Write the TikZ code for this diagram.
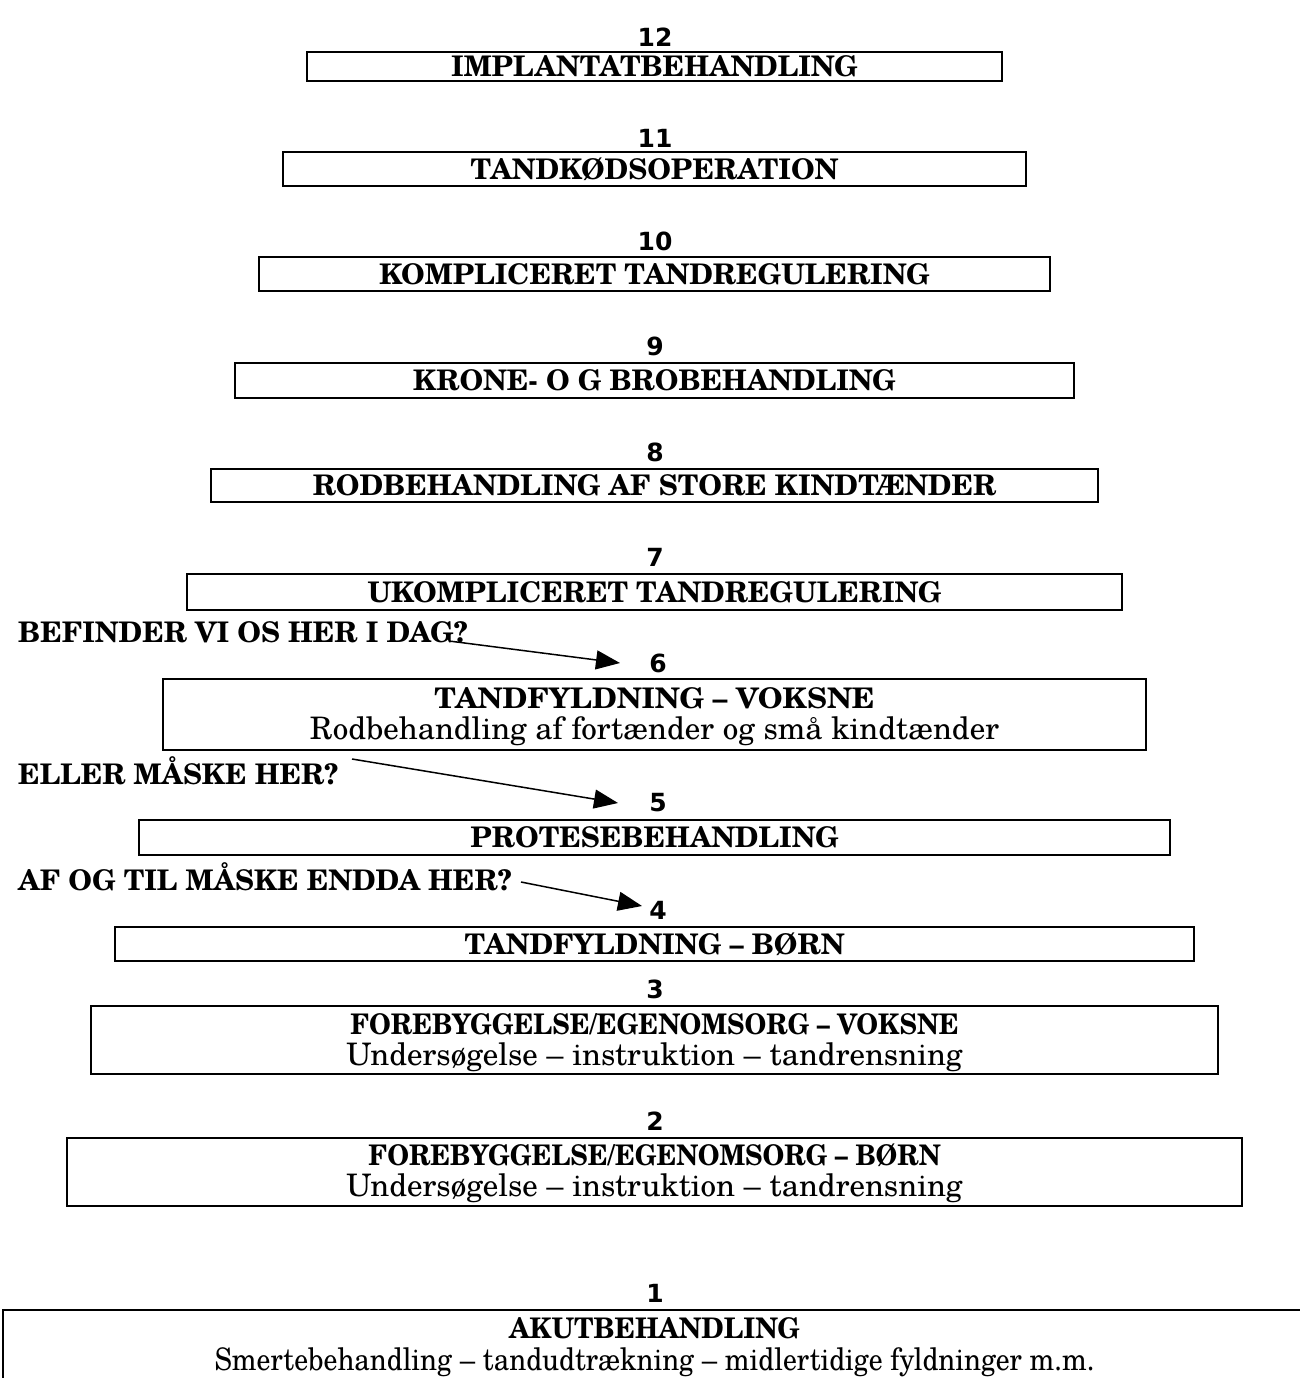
\documentclass[tikz,border=0pt]{standalone}
\usepackage{fontspec}
\setmainfont{TeX Gyre Schola}
\newfontfamily\numfont{DejaVu Sans}
\usetikzlibrary{arrows.meta}
\begin{document}
\begin{tikzpicture}[x=1pt,y=-1pt,
  box/.style={draw, line width=2.2pt, inner sep=0pt},
  ttl/.style={font=\fontsize{28.4}{32}\selectfont\bfseries, inner sep=0pt},
  sub/.style={font=\fontsize{31}{35}\selectfont, inner sep=0pt},
  num/.style={font=\numfont\fontsize{25}{28}\selectfont\bfseries, inner sep=0pt},
  lbl/.style={font=\fontsize{28.4}{32}\selectfont\bfseries, anchor=west, inner sep=0pt},
  arr/.style={line width=1.5pt, -{Triangle[length=24pt,width=19pt]}}]
\useasboundingbox (0,0) rectangle (1300,1378);
% 12
\node[num] (n12) at (655,37) {12};
\node[box, minimum width=695pt, minimum height=29pt] (b12) at (654.5,66.5) {};
\node[ttl] (t12) at (b12.center) {IMPLANTATBEHANDLING};
% 11
\node[num] (n11) at (655,138) {11};
\node[box, minimum width=743pt, minimum height=34pt] (b11) at (654.5,169) {};
\node[ttl] (t11) at (b11.center) {TANDKØDSOPERATION};
% 10
\node[num] (n10) at (655,241) {10};
\node[box, minimum width=791pt, minimum height=34pt] (b10) at (654.5,274) {};
\node[ttl] (t10) at (b10.center) {KOMPLICERET TANDREGULERING};
% 9
\node[num] (n9) at (655,346) {9};
\node[box, minimum width=839pt, minimum height=35pt] (b9) at (654.5,380.5) {};
\node[ttl] (t9) at (b9.center) {KRONE- O G BROBEHANDLING};
% 8
\node[num] (n8) at (655,452) {8};
\node[box, minimum width=887pt, minimum height=33pt] (b8) at (654.5,485.5) {};
\node[ttl] (t8) at (b8.center) {RODBEHANDLING AF STORE KINDTÆNDER};
% 7
\node[num] (n7) at (655,557) {7};
\node[box, minimum width=935pt, minimum height=36pt] (b7) at (654.5,592) {};
\node[ttl] (t7) at (b7.center) {UKOMPLICERET TANDREGULERING};
% 6
\node[num] (n6) at (658,663) {6};
\node[box, minimum width=983pt, minimum height=71pt] (b6) at (654.5,714.5) {};
\node[ttl] (t6) at (654.5,698) {\scalebox{1.05}[1]{TANDFYLDNING – VOKSNE}};
\node[sub] (s6) at (654.5,731) {Rodbehandling af fortænder og små kindtænder};
% 5
\node[num] (n5) at (658,803) {5};
\node[box, minimum width=1031pt, minimum height=35pt] (b5) at (654.5,837.5) {};
\node[ttl] (t5) at (b5.center) {PROTESEBEHANDLING};
% 4
\node[num] (n4) at (658,910) {4};
\node[box, minimum width=1079pt, minimum height=34pt] (b4) at (654.5,944) {};
\node[ttl] (t4) at (b4.center) {TANDFYLDNING – BØRN};
% 3
\node[num] (n3) at (655,989) {3};
\node[box, minimum width=1127pt, minimum height=68pt] (b3) at (654.5,1040) {};
\node[ttl] (t3) at (654.5,1024) {\scalebox{0.92}[1]{FOREBYGGELSE/EGENOMSORG – VOKSNE}};
\node[sub] (s3) at (654.5,1057) {Undersøgelse – instruktion – tandrensning};
% 2
\node[num] (n2) at (655,1121) {2};
\node[box, minimum width=1175pt, minimum height=68pt] (b2) at (654.5,1172) {};
\node[ttl] (t2) at (654.5,1155) {\scalebox{0.92}[1]{FOREBYGGELSE/EGENOMSORG – BØRN}};
\node[sub] (s2) at (654.5,1188) {Undersøgelse – instruktion – tandrensning};
% 1
\node[num] (n1) at (655,1293) {1};
\node[box, minimum width=1307pt, minimum height=82pt] (b1) at (656.5,1351) {};
\node[ttl] (t1) at (654.5,1328) {\scalebox{0.95}[1]{AKUTBEHANDLING}};
\node[sub] (s1) at (654.5,1362) {\scalebox{0.895}[1]{Smertebehandling – tandudtrækning – midlertidige fyldninger m.m.}};
% labels and arrows
\node[lbl] (l1) at (18,632) {BEFINDER VI OS HER I DAG?};
\node[lbl] (l2) at (18,771) {ELLER MÅSKE HER?};
\node[lbl] (l3) at (18,877) {AF OG TIL MÅSKE ENDDA HER?};
\coordinate (a1s) at (449,641);
\coordinate (a1e) at (620,663);
\coordinate (a2s) at (352,759);
\coordinate (a2e) at (618,803);
\coordinate (a3s) at (521,882);
\coordinate (a3e) at (642,906);
\draw[arr] (a1s) -- (a1e);
\draw[arr] (a2s) -- (a2e);
\draw[arr] (a3s) -- (a3e);
\end{tikzpicture}
\end{document}
